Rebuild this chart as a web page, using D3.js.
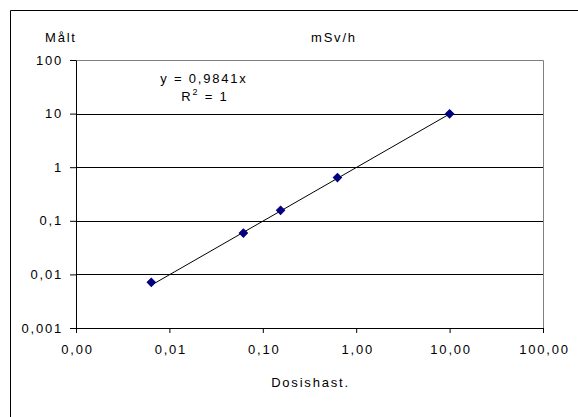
<!DOCTYPE html>
<html>
<head>
<meta charset="utf-8">
<script src="https://cdn.jsdelivr.net/npm/d3@7"></script>
<style>
  body { margin: 0; background: #fff; }
  svg { display: block; font-family: "Liberation Sans", Arial, sans-serif; }
</style>
</head>
<body>
<div id="chart"></div>
<script>
// measured points (Dosishast. vs Målt, mSv/h)
const xVals = [0.0064, 0.062, 0.155, 0.63, 10.0];
const yVals = [0.0071, 0.059, 0.157, 0.64, 9.9];
const slope = 0.9841;

const xTicks = [0.001, 0.01, 0.1, 1, 10, 100];
const xTickLabels = ['0,00', '0,01', '0,10', '1,00', '10,00', '100,00'];
const yTicks = [0.001, 0.01, 0.1, 1, 10, 100];
const yTickLabels = ['0,001', '0,01', '0,1', '1', '10', '100'];

const W = 578, H = 417;
const plot = {left: 76, right: 543, top: 60, bottom: 328};
const fontSize = '13px', spacing = '1.8px';

const svg = d3.select('#chart').append('svg')
  .attr('width', W)
  .attr('height', H);

// outer chart frame (only left/top edges inside the picture)
svg.append('path')
  .attr('d', 'M10.5,' + H + 'V10.5H' + W)
  .attr('fill', 'none')
  .attr('stroke', '#000')
  .attr('stroke-width', 1);

const x = d3.scaleLog().domain([0.001, 100]).range([plot.left, plot.right]);
const y = d3.scaleLog().domain([0.001, 100]).range([plot.bottom, plot.top]);

// gridlines
svg.append('g').selectAll('line')
  .data(yTicks.filter(d => d > 0.001 && d < 100))
  .enter().append('line')
  .attr('x1', plot.left).attr('x2', plot.right)
  .attr('y1', d => Math.round(y(d)) + 0.5).attr('y2', d => Math.round(y(d)) + 0.5)
  .attr('stroke', '#000');

// plot area border top/right
svg.append('path')
  .attr('d', 'M' + plot.left + ',' + (plot.top + 0.5) + 'H' + (plot.right + 0.5) + 'V' + plot.bottom)
  .attr('fill', 'none')
  .attr('stroke', '#808080');

// axes
const xAxis = d3.axisBottom(x)
  .tickValues(xTicks)
  .tickSize(5)
  .tickSizeOuter(0)
  .tickFormat((d, i) => xTickLabels[i]);
const yAxis = d3.axisLeft(y)
  .tickValues(yTicks)
  .tickSize(6)
  .tickSizeOuter(0)
  .tickFormat((d, i) => yTickLabels[i]);

const gx = svg.append('g')
  .attr('transform', 'translate(0,' + plot.bottom + ')')
  .call(xAxis);
const gy = svg.append('g')
  .attr('transform', 'translate(' + plot.left + ',0)')
  .call(yAxis);

[gx, gy].forEach(g => {
  g.selectAll('.domain').attr('stroke', '#000');
  g.selectAll('.tick line').attr('stroke', '#000');
  g.selectAll('.tick text')
    .attr('fill', '#000')
    .style('font-size', fontSize)
    .style('letter-spacing', spacing)
    .style('font-family', '"Liberation Sans", Arial, sans-serif');
});
gx.selectAll('.tick text').attr('y', 26).attr('dy', 0).attr('dx', 1);
gy.selectAll('.tick text').attr('x', -13);

// trendline y = 0.9841x across the data range
const xr = d3.extent(xVals);
const line = d3.line().x(d => x(d)).y(d => y(slope * d));
svg.append('path')
  .datum(xr)
  .attr('d', line)
  .attr('fill', 'none')
  .attr('stroke', '#000')
  .attr('stroke-width', 1);

// markers
const diamond = d3.symbol().type(d3.symbolSquare).size(34);
svg.append('g').selectAll('path')
  .data(xVals.map((v, i) => [v, yVals[i]]))
  .enter().append('path')
  .attr('d', diamond)
  .attr('transform', d => 'translate(' + x(d[0]) + ',' + y(d[1]) + ') rotate(45)')
  .attr('fill', '#000080')
  .attr('stroke', '#000080');

// texts
const txt = (tx, ty, s, anchor) => svg.append('text')
  .attr('x', tx).attr('y', ty)
  .attr('text-anchor', anchor || 'middle')
  .style('font-size', fontSize)
  .style('letter-spacing', spacing)
  .text(s);

txt(45, 42, 'Målt', 'start');
txt(311, 42, 'mSv/h', 'start');
txt((plot.left + plot.right) / 2 + 1, 387, 'Dosishast.');
txt(204, 83, 'y = 0,9841x');

const r2 = svg.append('text')
  .attr('x', 205).attr('y', 101)
  .attr('text-anchor', 'middle')
  .style('font-size', fontSize)
  .style('letter-spacing', spacing);
r2.append('tspan').text('R');
r2.append('tspan').attr('dy', -6).style('font-size', '9px').text('2');
r2.append('tspan').attr('dy', 6).text(' = 1');
</script>
</body>
</html>
